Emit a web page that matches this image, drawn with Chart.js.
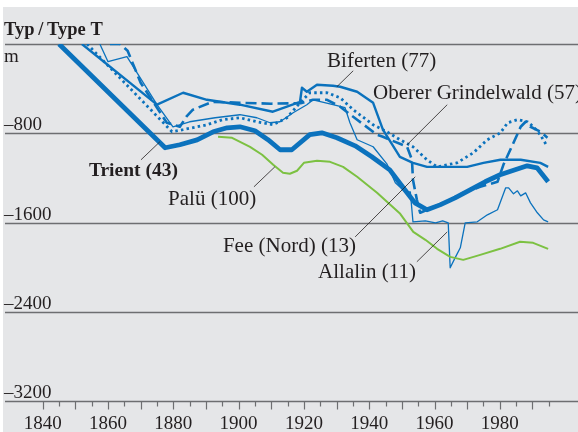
<!DOCTYPE html>
<html lang="de">
<head>
<meta charset="UTF-8">
<title>Typ / Type T</title>
<script src="https://cdn.jsdelivr.net/npm/chart.js"></script>
<style>
  html, body { margin: 0; padding: 0; background: #fff; }
  #wrap { width: 578px; height: 432px; }
</style>
</head>
<body>
<div id="wrap"><canvas id="chart" width="578" height="432"></canvas></div>
<script>
// length change in m
const yTicks = [0, -800, -1600, -2400, -3200];
const xLabels = [1840, 1860, 1880, 1900, 1920, 1940, 1960, 1980];

const trientYears  = [1845, 1877.5, 1882, 1887.3, 1892.2, 1896.5, 1900.4, 1905, 1909, 1912.7, 1916.3, 1921.8, 1925.5, 1930.1, 1935.7, 1940.8, 1946.3, 1950.9, 1954, 1957.7, 1961.7, 1966.3, 1970.9, 1975.5, 1980.1, 1984.7, 1988.4, 1991.4, 1994.8];
const trientValues = [0, -930, -903, -859, -787, -751, -742, -778, -858, -948, -948, -813, -796, -840, -913, -1011, -1128, -1307, -1424, -1486, -1442, -1379, -1307, -1235, -1172, -1128, -1092, -1110, -1235];

const bifertenYears  = [1852, 1875, 1883, 1890.3, 1900.4, 1910.5, 1914.8, 1918.8, 1919.4, 1920.9, 1924, 1928.9, 1931.1, 1936.3, 1941.2, 1944.2, 1949.4, 1953.4, 1957.7, 1970, 1975, 1980.2, 1986.4, 1992.4, 1994.8];
const bifertenValues = [0, -544, -437, -500, -544, -607, -562, -518, -392, -428, -365, -374, -383, -428, -527, -768, -1011, -1065, -1101, -1101, -1065, -1038, -1038, -1065, -1101];

const grindelYears  = [1853.6, 1879.6, 1883, 1890.3, 1895, 1900.4, 1905.6, 1910.5, 1914.8, 1918.8, 1921.8, 1927.1, 1931.1, 1935.1, 1941.2, 1945.4, 1949.4, 1953.4, 1957.7, 1960.8, 1966.9, 1971.9, 1976.2, 1980.2, 1982.4, 1985.4, 1988.5, 1990.3, 1992.4, 1994.6];
const grindelValues = [0, -786, -768, -724, -679, -661, -697, -724, -661, -527, -437, -437, -482, -589, -724, -786, -858, -921, -1038, -1101, -1065, -975, -858, -796, -706, -679, -697, -742, -814, -921];

const paluYears  = [1893.7, 1898, 1903.5, 1907.2, 1910.6, 1913.6, 1915.7, 1917.9, 1920, 1924, 1928, 1932, 1936.3, 1942.4, 1949.5, 1953.5, 1957.2, 1960.8, 1964.8, 1968.8, 1970.9, 1974, 1980.1, 1986.2, 1990.2, 1994.8];
const paluValues = [-832, -841, -922, -993, -1083, -1154, -1163, -1136, -1065, -1047, -1056, -1101, -1190, -1334, -1522, -1684, -1755, -1836, -1908, -1935, -1917, -1890, -1836, -1773, -1782, -1836];

const feeYears  = [1860.6, 1863.7, 1866, 1870, 1878, 1882, 1884, 1886, 1892, 1900.4, 1910, 1919, 1922.8, 1927.1, 1931.1, 1936.3, 1942.4, 1944.2, 1951.6, 1953.1, 1953.4, 1954.6, 1955.6, 1964.8, 1968.8, 1974, 1979.3, 1981.1, 1984.2, 1986.4, 1987.9, 1989.4, 1992.4, 1994.6];
const feeValues = [0, 0, -60, -347, -706, -742, -652, -589, -518, -527, -535, -530, -500, -500, -562, -679, -814, -832, -921, -1038, -1217, -1397, -1513, -1397, -1334, -1280, -1235, -1083, -885, -742, -697, -742, -786, -840];

const allalinYears  = [1857.5, 1860, 1865.8, 1875, 1879.9, 1885, 1892.8, 1900.4, 1905.6, 1909.6, 1912.7, 1916.7, 1920.9, 1922.8, 1928.9, 1932.6, 1934.1, 1936.3, 1941.2, 1945.4, 1948, 1951, 1952.6, 1953.4, 1957.2, 1960.3, 1962.5, 1964.2, 1964.8, 1966.3, 1967.9, 1969.4, 1973.1, 1976.2, 1979.3, 1981.8, 1982.7, 1984.2, 1985.4, 1986.4, 1987.9, 1989.4, 1991.5, 1993.4, 1994.8];
const allalinValues = [0, -159, -114, -544, -742, -697, -661, -634, -661, -706, -697, -616, -544, -500, -544, -571, -706, -858, -921, -1074, -1244, -1325, -1325, -1594, -1585, -1603, -1585, -1603, -2006, -1917, -1827, -1603, -1594, -1531, -1486, -1289, -1289, -1343, -1316, -1361, -1334, -1424, -1513, -1576, -1594];

const BLUE = '#0b72bd';
const GREEN = '#7cc142';
const INK = '#231f20';
const GRID = '#6d6e71';
const SERIF = '"Liberation Serif", "Times New Roman", serif';

// callouts: label text, anchor in data units, leader line ends in data units
const callouts = [
  { text: 'Biferten (77)', x: 1927.1, y: -204, align: 'left', bold: false, from: [1935.1, -240], to: [1930.1, -383] },
  { text: 'Oberer Grindelwald (57)', x: 1941.2, y: -491, align: 'left', bold: false, from: [1963.9, -544], to: [1951.6, -903] },
  { text: 'Trient (43)', x: 1881.4, y: -1181, align: 'right', bold: true, from: [1870.1, -1038], to: [1875.9, -876] },
  { text: 'Palü (100)', x: 1878.4, y: -1441, align: 'left', bold: false, from: [1904.7, -1280], to: [1911.1, -1101] },
  { text: 'Fee (Nord) (13)', x: 1895.2, y: -1863, align: 'left', bold: false, from: [1935.7, -1729], to: [1954.1, -1190] },
  { text: 'Allalin (11)', x: 1954.3, y: -2096, align: 'right', bold: false, from: [1954.6, -1952], to: [1963.9, -1684] }
];

function pts(xs, ys) {
  return xs.map((x, i) => ({ x: x, y: ys[i] }));
}

const frame = {
  id: 'frame',
  beforeDraw(chart) {
    const c = chart.ctx;
    c.save();
    c.fillStyle = '#ffffff';
    c.fillRect(0, 0, chart.width, chart.height);
    c.fillStyle = '#e5e6e8';
    c.fillRect(3, 7, chart.width - 3, chart.height - 7);
    c.restore();
  },
  beforeDatasetsDraw(chart) {
    const c = chart.ctx, y = chart.scales.y, a = chart.chartArea;
    c.save();
    c.strokeStyle = GRID;
    c.lineWidth = 1.5;
    yTicks.forEach(v => {
      const py = Math.round(y.getPixelForValue(v)) + 0.5;
      c.beginPath();
      c.moveTo(a.left, py);
      c.lineTo(a.right, py);
      c.stroke();
    });
    c.restore();
  },
  afterDraw(chart) {
    const c = chart.ctx, x = chart.scales.x, y = chart.scales.y;
    c.save();
    // title and unit
    c.fillStyle = INK;
    c.textAlign = 'left';
    c.textBaseline = 'alphabetic';
    c.font = 'bold 18.5px ' + SERIF;
    c.fillText('Typ\u2009/\u2009Type T', 4, 35);
    c.font = '19px ' + SERIF;
    c.fillText('m', 4, 62);
    // y labels above the grid lines
    yTicks.forEach(v => {
      if (v === 0) return;
      c.fillText('\u2013' + Math.abs(v), 4, y.getPixelForValue(v) - 3);
    });
    // x ticks and labels
    const base = Math.round(y.getPixelForValue(-3200)) + 0.5;
    c.strokeStyle = GRID;
    c.lineWidth = 1.2;
    for (let yr = 1840; yr <= 1995; yr += 5) {
      const px = Math.round(x.getPixelForValue(yr)) + 0.5;
      c.beginPath();
      c.moveTo(px, base);
      c.lineTo(px, base + (yr % 10 === 0 ? 8 : 5));
      c.stroke();
    }
    c.textAlign = 'center';
    c.font = '19px ' + SERIF;
    xLabels.forEach(yr => c.fillText(String(yr), x.getPixelForValue(yr), 429));
    // callouts
    c.strokeStyle = INK;
    c.lineWidth = 0.8;
    callouts.forEach(o => {
      c.beginPath();
      c.moveTo(x.getPixelForValue(o.from[0]), y.getPixelForValue(o.from[1]));
      c.lineTo(x.getPixelForValue(o.to[0]), y.getPixelForValue(o.to[1]));
      c.stroke();
      c.font = o.bold ? 'bold 19.5px ' + SERIF : '21px ' + SERIF;
      c.textAlign = o.align;
      c.fillText(o.text, x.getPixelForValue(o.x), y.getPixelForValue(o.y));
    });
    c.restore();
  }
};

new Chart(document.getElementById('chart'), {
  type: 'line',
  data: {
    datasets: [
      { label: 'Palü (100)', data: pts(paluYears, paluValues), borderColor: GREEN, borderWidth: 2 },
      { label: 'Allalin (11)', data: pts(allalinYears, allalinValues), borderColor: BLUE, borderWidth: 1.3 },
      { label: 'Fee (Nord) (13)', data: pts(feeYears, feeValues), borderColor: BLUE, borderWidth: 2.6, borderDash: [11, 5] },
      { label: 'Oberer Grindelwald (57)', data: pts(grindelYears, grindelValues), borderColor: BLUE, borderWidth: 2.8, borderDash: [2.5, 3.2] },
      { label: 'Biferten (77)', data: pts(bifertenYears, bifertenValues), borderColor: BLUE, borderWidth: 2.4 },
      { label: 'Trient (43)', data: pts(trientYears, trientValues), borderColor: BLUE, borderWidth: 4.8 }
    ]
  },
  options: {
    responsive: false,
    animation: false,
    devicePixelRatio: 1,
    layout: { padding: { left: 5, right: 0, top: 44, bottom: 31 } },
    elements: { point: { radius: 0 }, line: { tension: 0, fill: false, borderJoinStyle: 'round' } },
    scales: {
      x: { type: 'linear', display: false, min: 1828.45, max: 2003.95 },
      y: { type: 'linear', display: false, min: -3200, max: 0 }
    },
    plugins: { legend: { display: false }, tooltip: { enabled: false } }
  },
  plugins: [frame]
});
</script>
</body>
</html>
